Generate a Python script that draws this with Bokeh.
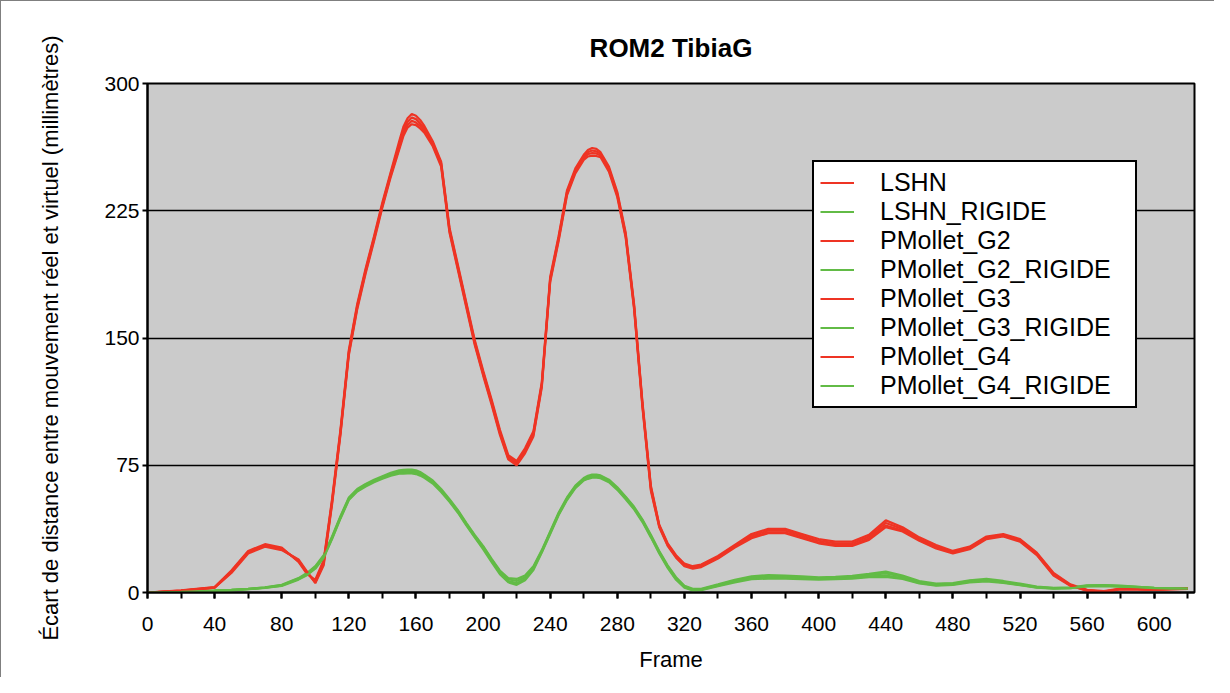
from bokeh.plotting import figure
from bokeh.models import Range1d, SingleIntervalTicker, FixedTicker, Legend, LegendItem
from bokeh.embed import file_html
from bokeh.resources import INLINE

# ---------------- data ----------------
frames = [0, 20, 40, 50, 60, 70, 80, 90, 95, 100,
          105, 110, 115, 120, 125, 130, 135, 140, 145, 150,
          152.5, 155, 157.5, 160, 162.5, 165, 170, 175, 180, 185,
          190, 195, 200, 205, 210, 215, 220, 225, 230, 235,
          240, 245, 250, 255, 260, 262.5, 265, 267.5, 270, 275,
          280, 285, 290, 295, 300, 305, 310, 315, 320, 325,
          330, 340, 350, 360, 370, 380, 390, 400, 410, 420,
          430, 440, 450, 460, 470, 480, 490, 500, 510, 520,
          530, 540, 550, 560, 570, 580, 590, 600, 610, 620]

lshn = [0, 1.2, 3.2, 13, 24.5, 28.5, 26.5, 18, 11, 7.5,
        19, 55, 96, 143, 170, 191, 210, 230, 248, 266,
        274.5, 279.5, 282, 281, 278.5, 275, 266, 254, 215, 193,
        171, 149, 131, 114, 96, 81, 77.5, 85, 95, 124,
        186, 210, 237, 250, 258, 260.8, 262, 261.5, 259.5, 251,
        236, 212, 170, 112, 63, 40, 29, 22, 17, 15.5,
        16.5, 21.5, 28, 34.5, 37.5, 37.5, 34.5, 31.5, 30, 30,
        34, 42.5, 38.5, 32.5, 28, 24.5, 27, 33, 34.5, 31.5,
        23.5, 11.5, 4.8, 1.6, 0.8, 2.3, 2.1, 1.8, 2.2, 2.4]

lshn_rigide = [0, 0.5, 1.2, 1.6, 2.2, 3, 4.5, 8.5, 11.5, 15.5,
               22, 33, 45, 56, 61, 64, 66.5, 68.5, 70.5, 72,
               72.3, 72.5, 72.5, 72, 71, 69.5, 66, 61, 55, 48.5,
               41, 34, 27.5, 20, 13, 8.5, 8, 10, 15.5, 25,
               36, 47, 56, 63, 67.5, 68.8, 69.5, 69.5, 69, 66.5,
               62, 56.5, 50.5, 43, 34, 24.5, 16, 9, 4, 2.2,
               2.2, 4.8, 7.5, 9.5, 10.3, 10, 9.5, 9, 9.2, 9.8,
               11, 12.3, 10, 6.8, 5.2, 5.6, 7.2, 8, 6.8, 5.2,
               3.5, 2.8, 3, 4.2, 4.4, 4, 3.4, 2.8, 2.5, 2.5]

pm_g2 = [0, 1.1, 3.0, 12.5, 24, 28, 26, 18.5, 11.5, 6.5,
         18, 54, 95, 142, 169, 190, 209, 229, 247, 264,
         272.5, 277.5, 280, 279, 276.5, 273.5, 265, 253, 214, 192,
         170, 148, 130, 113, 95, 80, 76.5, 84, 94, 123,
         185, 209, 236, 249, 257, 259.5, 260.5, 260, 258.5, 250,
         235, 211, 169, 111, 62, 39.5, 28.5, 21.5, 16.5, 15,
         16, 21, 27.5, 33.5, 36.5, 36.5, 33.5, 30.5, 29, 29,
         33, 41, 37.5, 31.5, 27, 24, 26.5, 32.5, 34, 31,
         23, 11, 4.5, 1.3, 0.6, 2.1, 2, 1.7, 2.1, 2.3]

pm_g2_rigide = [0, 0.5, 1.1, 1.5, 2.1, 2.9, 4.3, 8.2, 11, 15,
                21.5, 32.5, 44.5, 55.5, 60.5, 63.5, 66, 68, 70, 71.3,
                71.5, 71.6, 71.6, 71.2, 70.2, 68.8, 65.3, 60.3, 54.5, 48,
                40.5, 33.5, 27, 19.5, 12.3, 7.8, 6.8, 9, 14.8, 24.5,
                35.5, 46.5, 55.5, 62.5, 67, 68.2, 68.9, 68.9, 68.5, 66,
                61.5, 56, 50, 42.5, 33.5, 24, 15.5, 8.5, 3.6, 1.8,
                1.9, 4.4, 7, 9, 9.6, 9.4, 8.9, 8.5, 8.7, 9.2,
                10.3, 11.3, 9.3, 6.2, 4.8, 5.2, 6.8, 7.5, 6.3, 4.8,
                3.2, 2.6, 2.8, 4, 4.2, 3.8, 3.3, 2.7, 2.4, 2.4]

pm_g3 = [0, 1.0, 2.9, 12, 23.5, 27.5, 25.5, 19, 12, 6,
         17, 53, 94, 141, 168, 189, 208, 228, 246, 262,
         270.5, 275.5, 278, 277, 275, 272, 264, 252, 213, 191,
         169, 147, 129, 112, 94, 79, 75.5, 83, 93, 122,
         184, 208, 235, 248, 256, 258.3, 259, 258.8, 257.5, 249,
         234, 210, 168, 110, 61, 39, 28, 21, 16, 14.5,
         15.5, 20.5, 27, 32.5, 35.5, 35.5, 32.5, 29.5, 28, 28,
         32, 39.5, 36.5, 31, 26.5, 23.5, 26, 32, 33.5, 30.5,
         22.5, 10.5, 4.2, 1.1, 0.5, 2.0, 1.9, 1.6, 2.0, 2.2]

pm_g3_rigide = [0, 0.4, 1.0, 1.4, 2, 2.8, 4.1, 7.9, 10.6, 14.5,
                21, 32, 44, 55, 60, 63, 65.5, 67.5, 69.5, 70.8,
                71, 71, 71, 70.6, 69.6, 68.3, 64.8, 59.8, 54, 47.5,
                40, 33, 26.3, 18.8, 11.5, 6.8, 5.5, 8, 14, 24,
                35, 46, 55, 62, 66.5, 67.6, 68.3, 68.3, 68, 65.5,
                61, 55.5, 49.5, 42, 33, 23.5, 15, 8, 3.2, 1.5,
                1.6, 4, 6.5, 8.3, 8.8, 8.7, 8.3, 8, 8.2, 8.6,
                9.5, 10, 8.5, 5.7, 4.4, 4.8, 6.4, 7, 5.9, 4.5,
                3, 2.4, 2.6, 3.8, 4, 3.6, 3.2, 2.6, 2.3, 2.3]

pm_g4 = [0, 1.0, 2.8, 11.5, 23, 27, 25, 19.5, 12.5, 5.5,
         16, 52, 93, 140, 167, 188, 207, 227, 245, 261,
         269, 274, 276, 275.5, 273.5, 271, 263, 251, 212, 190,
         168, 146, 128, 111, 93, 78.5, 75, 82, 92, 121,
         183, 207, 234, 247, 255, 257, 257.5, 257.3, 256.5, 248,
         233, 209, 167, 109, 60, 38.5, 27.5, 20.5, 15.5, 14,
         15, 20, 26.5, 32, 35, 35, 32, 29, 27.5, 27.5,
         31, 38.5, 36, 30.5, 26, 23, 25.5, 31.5, 33, 30,
         22, 10, 4, 1, 0.4, 1.9, 1.8, 1.5, 1.9, 2.1]

pm_g4_rigide = [0, 0.4, 0.9, 1.3, 1.9, 2.7, 3.9, 7.6, 10.2, 14,
                20.5, 31.5, 43.5, 54.5, 59.5, 62.5, 65, 67, 68.8, 70,
                70.1, 70.2, 70.2, 69.8, 68.9, 67.6, 64.2, 59.2, 53.4, 47,
                39.5, 32.5, 25.6, 18, 10.8, 6, 4.5, 7.2, 13.3, 23.5,
                34.5, 45.5, 54.5, 61.5, 66, 67, 67.7, 67.7, 67.4, 65,
                60.5, 55, 49, 41.5, 32.5, 23, 14.5, 7.5, 2.8, 1.2,
                1.4, 3.7, 6, 7.8, 8.2, 8.1, 7.8, 7.6, 7.8, 8.2,
                9, 9.2, 8, 5.3, 4.1, 4.5, 6, 6.6, 5.6, 4.3,
                2.8, 2.2, 2.5, 3.6, 3.8, 3.5, 3.1, 2.5, 2.2, 2.2]

series_names = ["LSHN", "LSHN_RIGIDE", "PMollet_G2", "PMollet_G2_RIGIDE",
                "PMollet_G3", "PMollet_G3_RIGIDE", "PMollet_G4", "PMollet_G4_RIGIDE"]
series_values = [lshn, lshn_rigide, pm_g2, pm_g2_rigide,
                 pm_g3, pm_g3_rigide, pm_g4, pm_g4_rigide]

x_ticks_interval = 40
y_ticks = [0, 75, 150, 225, 300]

# ---------------- styling ----------------
RED = "#EE3424"
GREEN = "#62BB46"
FONT = "Liberation Sans"

p = figure(width=1214, height=677, output_backend="svg", toolbar_location=None,
           x_range=Range1d(0, 624), y_range=Range1d(0, 300),
           min_border_left=146, min_border_right=21, min_border_top=82, min_border_bottom=86,
           title="ROM2 TibiaG", x_axis_label="Frame",
           y_axis_label="Écart de distance entre mouvement réel et virtuel (millimètres)")

p.styles = {"border-top": "1px solid #7f7f7f", "border-left": "1px solid #7f7f7f"}
p.background_fill_color = "#CBCBCB"
p.border_fill_color = "white"
p.outline_line_color = "black"
p.outline_line_width = 2

p.title.align = "center"
p.title.text_font = FONT
p.title.text_font_size = "26px"
p.title.text_font_style = "bold"
p.title.text_color = "black"
p.title.offset = 0
p.title.standoff = 41

p.xgrid.visible = False
p.ygrid.grid_line_color = "black"
p.ygrid.grid_line_width = 1.6

p.xaxis.ticker = SingleIntervalTicker(interval=x_ticks_interval, num_minor_ticks=2)
p.yaxis.ticker = FixedTicker(ticks=y_ticks)

for ax in (p.xaxis[0], p.yaxis[0]):
    ax.axis_line_color = "black"
    ax.axis_line_width = 2
    ax.major_tick_line_color = "black"
    ax.major_tick_line_width = 2
    ax.minor_tick_line_color = "black"
    ax.minor_tick_line_width = 2
    ax.major_tick_in = 0
    ax.minor_tick_in = 0
    ax.major_label_text_font = FONT
    ax.major_label_text_font_size = "21px"
    ax.major_label_text_color = "black"
    ax.axis_label_text_font = FONT
    ax.axis_label_text_font_size = "22px"
    ax.axis_label_text_font_style = "normal"
    ax.axis_label_text_color = "black"

p.xaxis.major_tick_out = 6
p.xaxis.minor_tick_out = 6
p.xaxis.major_label_standoff = 18
p.xaxis.axis_label_standoff = 13

p.yaxis.major_tick_out = 5
p.yaxis.minor_tick_out = 0
p.yaxis.major_label_standoff = 3
p.yaxis.axis_label_standoff = 38

items = []
for name, vals in zip(series_names, series_values):
    color = GREEN if name.endswith("RIGIDE") else RED
    r = p.line(frames, vals, line_color=color, line_width=2.2)
    items.append(LegendItem(label=name, renderers=[r]))

legend = Legend(items=items, location=(665, 184))
legend.border_line_color = "black"
legend.border_line_width = 2
legend.border_line_alpha = 1
legend.background_fill_color = "white"
legend.background_fill_alpha = 1
legend.label_text_font = FONT
legend.label_text_font_size = "25px"
legend.label_text_color = "black"
legend.label_height = 29
legend.label_width = 249
legend.glyph_height = 29
legend.glyph_width = 34
legend.label_standoff = 26
legend.padding = 6
legend.spacing = 0
legend.margin = 0
p.add_layout(legend)

open("out.html", "w").write(file_html(p, INLINE))
